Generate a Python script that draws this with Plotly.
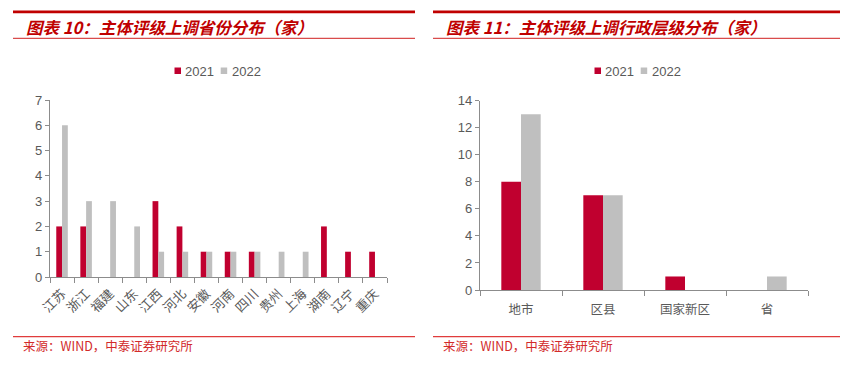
import plotly.graph_objects as go

# page offset: the default HTML body margin places the figure at (8, 8)
OFF = 8
W, H = 860 - OFF, 366 - OFF

provinces = ["江苏", "浙江", "福建", "山东", "江西", "河北", "安徽", "河南", "四川", "贵州", "上海", "湖南", "辽宁", "重庆"]
prov_2021 = [2, 2, 0, 0, 3, 2, 1, 1, 1, 0, 0, 2, 1, 1]
prov_2022 = [6, 3, 3, 2, 1, 1, 1, 1, 1, 1, 1, 0, 0, 0]

levels = ["地市", "区县", "国家新区", "省"]
level_2021 = [8, 7, 1, 0]
level_2022 = [13, 7, 0, 1]

series_names = ["2021", "2022"]
RED = "#C0002F"
GREY = "#BFBFBF"
TITLE_RED = "#C00000"
AXIS = "#8C8C8C"
TICK = "#595959"
series_colors = [RED, GREY]

def px(x):
    return (x - OFF) / W

def py(y):
    return 1 - (y - OFF) / H

fig = go.Figure()
fig.add_trace(go.Bar(x=provinces, y=prov_2021, name=series_names[0], marker=dict(color=RED, line=dict(width=0)),
                     xaxis="x", yaxis="y", showlegend=False))
fig.add_trace(go.Bar(x=provinces, y=prov_2022, name=series_names[1], marker=dict(color=GREY, line=dict(width=0)),
                     xaxis="x", yaxis="y", showlegend=False))
fig.add_trace(go.Bar(x=levels, y=level_2021, name=series_names[0], marker=dict(color=RED, line=dict(width=0)),
                     xaxis="x2", yaxis="y2", showlegend=False))
fig.add_trace(go.Bar(x=levels, y=level_2022, name=series_names[1], marker=dict(color=GREY, line=dict(width=0)),
                     xaxis="x2", yaxis="y2", showlegend=False))

cjk = "Noto Sans CJK SC"
lat = "Liberation Sans, Arial"

xcommon = dict(showline=True, linecolor=AXIS, linewidth=1.3, ticks="outside", tickson="boundaries",
               ticklen=5, tickcolor=AXIS, showgrid=False, zeroline=False, automargin=False)
ycommon = dict(showline=True, linecolor=AXIS, linewidth=1.3, ticks="outside", ticklen=4, tickcolor=AXIS,
               showgrid=False, zeroline=False, automargin=False, tickfont=dict(family=lat, size=13, color=TICK))

fig.update_layout(
    width=W, height=H, margin=dict(l=0, r=0, t=0, b=0, autoexpand=False),
    paper_bgcolor="white", plot_bgcolor="white",
    barmode="group", bargap=0.52, bargroupgap=0,
    xaxis=dict(domain=[px(50), px(387)], anchor="y", tickangle=-45, ticklabelstandoff=3,
               tickfont=dict(family=cjk, size=13, color=TICK), **xcommon),
    yaxis=dict(domain=[py(277), py(100)], anchor="x", range=[0, 7], dtick=1, **ycommon),
    xaxis2=dict(domain=[px(480), px(808)], anchor="y2", tickangle=0, ticklabelstandoff=8,
                tickfont=dict(family=cjk, size=12.5, color=TICK), **xcommon),
    yaxis2=dict(domain=[py(290), py(100.7)], anchor="x2", range=[0, 14], dtick=2, **ycommon),
    showlegend=False,
)

shapes = []
anns = []
for x0, x1 in [(13, 415), (433, 840)]:
    shapes.append(dict(type="line", xref="paper", yref="paper", x0=px(x0), x1=px(x1), y0=py(11.8), y1=py(11.8),
                       line=dict(color=TITLE_RED, width=2.8)))
    shapes.append(dict(type="line", xref="paper", yref="paper", x0=px(x0), x1=px(x1), y0=py(38.3), y1=py(38.3),
                       line=dict(color="#D02020", width=1)))
    shapes.append(dict(type="line", xref="paper", yref="paper", x0=px(x0), x1=px(x1), y0=py(336.7), y1=py(336.7),
                       line=dict(color="#E03C3C", width=1.2)))

# legends: (square left x, text left x) for each series, per chart
legend_pos = [[(174.5, 183), (220.7, 229.5)], [(594.5, 603), (640.7, 650)]]
for chart in legend_pos:
    for (sx, tx), name, col in zip(chart, series_names, series_colors):
        shapes.append(dict(type="rect", xref="paper", yref="paper", x0=px(sx), x1=px(sx + 6.5),
                           y0=py(74), y1=py(67.5), fillcolor=col, line=dict(width=0)))
        anns.append(dict(text=name, x=px(tx), y=py(71.3), xref="paper", yref="paper", xanchor="left",
                         yanchor="middle", showarrow=False, font=dict(family=lat, size=13, color=TICK)))
fig.update_layout(shapes=shapes)

titles = [
    ("<b><i>图表 10：主体评级上调省份分布（家）</i></b>", 24),
    ("<b><i>图表 11：主体评级上调行政层级分布（家）</i></b>", 444),
]
for text, x in titles:
    anns.append(dict(text=text, x=px(x), y=py(26.5), xref="paper", yref="paper", xanchor="left",
                     yanchor="middle", showarrow=False, font=dict(family=cjk, size=16.5, color=TITLE_RED)))
for x in [21, 441]:
    anns.append(dict(text="来源：WIND，中泰证券研究所", x=px(x), y=py(345.5), xref="paper", yref="paper",
                     xanchor="left", yanchor="middle", showarrow=False,
                     font=dict(family=cjk, size=12.5, color="#D22A2A")))
fig.update_layout(annotations=anns)

fig.write_html("out.html")
